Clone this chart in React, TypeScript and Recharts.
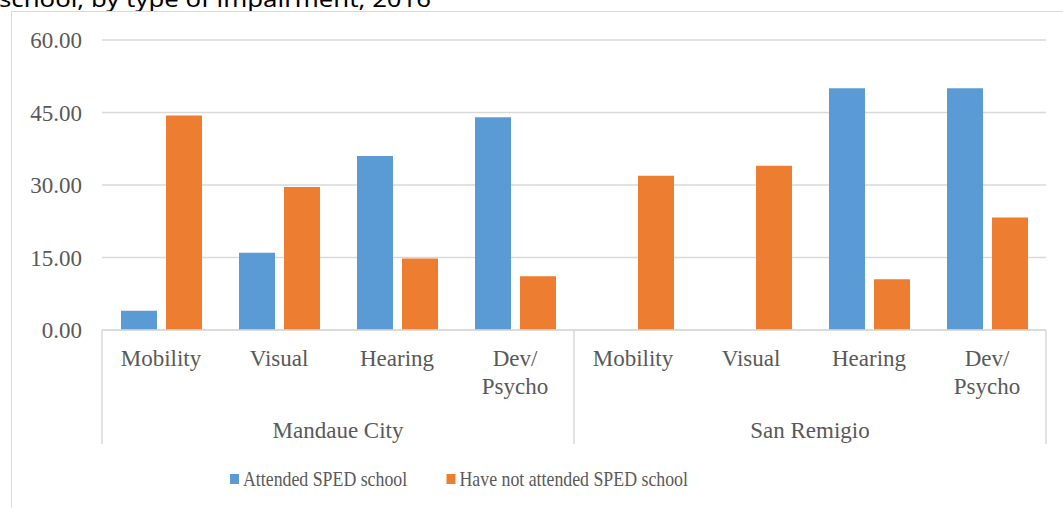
import React from "react";
import { BarChart, Bar, XAxis, YAxis, CartesianGrid, Legend } from "recharts";

// values
const groups = ["Mandaue City", "San Remigio"];
const impairments = ["Mobility", "Visual", "Hearing", "Dev/\nPsycho"];
const attended = [4.0, 16.0, 36.0, 44.0, 0, 0, 50.0, 50.0];
const notAttended = [44.4, 29.6, 14.8, 11.1, 31.9, 34.0, 10.5, 23.3];
const yTicks = [0, 15, 30, 45, 60];
const seriesNames = ["Attended SPED school", "Have not attended SPED school"];
const seriesColors = ["#5B9BD5", "#ED7D31"];

const rows = groups.flatMap((g, gi) =>
  impairments.map((c, ci) => ({
    key: `${g}|${c}`,
    group: g,
    category: c,
    attended: attended[gi * impairments.length + ci],
    notAttended: notAttended[gi * impairments.length + ci],
  }))
);

const serif = '"Liberation Serif", "Times New Roman", serif';
const textGray = "#595959";
const lineGray = "#d9d9d9";

const CategoryTick = (props: any) => {
  const { x, y, payload } = props;
  const idx = rows.findIndex((r) => r.key === payload.value);
  if (idx < 0) return null;
  const lines = rows[idx].category.split("\n");
  const half = payload.offset ?? 59;
  return (
    <g>
      {lines.map((l: string, i: number) => (
        <text key={i} x={x} y={y + 36 + i * 28} textAnchor="middle" fill={textGray} fontFamily={serif} fontSize={23}>
          {l}
        </text>
      ))}
      {idx % impairments.length === 0 && (
        <line x1={x - half} x2={x - half} y1={y} y2={y + 114} stroke={lineGray} strokeWidth={1.5} />
      )}
      {idx === rows.length - 1 && (
        <line x1={x + half} x2={x + half} y1={y} y2={y + 114} stroke={lineGray} strokeWidth={1.5} />
      )}
    </g>
  );
};

const GroupTick = (props: any) => {
  const { x, y, payload } = props;
  return (
    <text x={x} y={y + 22} textAnchor="middle" fill={textGray} fontFamily={serif} fontSize={23}>
      {payload.value}
    </text>
  );
};

const legendX = [230, 446.5];

const LegendContent = () => (
  <svg width={1063} height={30} style={{ display: "block" }}>
    {seriesNames.map((n, i) => (
      <g key={n} transform={`translate(${legendX[i]},0)`}>
        <rect x={0} y={11} width={9} height={10} fill={seriesColors[i]} />
        <g transform="translate(13,23) scale(0.81,1)">
          <text x={0} y={0} fill={textGray} fontFamily={serif} fontSize={22}>
            {n}
          </text>
        </g>
      </g>
    ))}
  </svg>
);

export default function App() {
  return (
    <div
      style={{
        position: "absolute",
        left: 0,
        top: 0,
        width: 1063,
        height: 508,
        overflow: "hidden",
        background: "#fff",
      }}
    >
      <svg width={1063} height={20} style={{ position: "absolute", left: 0, top: 0 }}>
        <text x={-1} y={7} fontFamily='"Noto Sans", "Open Sans", sans-serif' fontSize={22} fill="#000" textLength={432} lengthAdjust="spacingAndGlyphs">
          school, by type of impairment, 2016
        </text>
      </svg>
      <div
        style={{
          position: "absolute",
          left: 10.5,
          top: 10.5,
          width: 1100,
          height: 600,
          borderLeft: `1.5px solid ${lineGray}`,
          borderTop: `1.5px solid ${lineGray}`,
        }}
      />
      <div style={{ position: "absolute", left: 0, top: 0 }}>
        <BarChart
          width={1063}
          height={508}
          data={rows}
          margin={{ top: 40, right: 17, left: 12, bottom: 15 }}
          barSize={36}
          barGap={9}
        >
          <CartesianGrid vertical={false} stroke={lineGray} strokeWidth={1.5} />
          <XAxis
            dataKey="key"
            interval={0}
            height={86}
            tickSize={0}
            tickMargin={0}
            tickLine={false}
            axisLine={{ stroke: lineGray, strokeWidth: 1.5 }}
            tick={<CategoryTick />}
          />
          <XAxis
            xAxisId="group"
            dataKey="group"
            allowDuplicatedCategory={false}
            interval={0}
            height={47}
            tickSize={0}
            tickMargin={0}
            tickLine={false}
            axisLine={false}
            tick={<GroupTick />}
          />
          <YAxis
            domain={[0, 60]}
            ticks={yTicks}
            width={90}
            tickSize={0}
            tickMargin={20}
            tickLine={false}
            axisLine={false}
            tickFormatter={(v: number) => v.toFixed(2)}
            tick={{ fill: textGray, fontFamily: serif, fontSize: 23 }}
          />
          <Legend
            verticalAlign="bottom"
            content={<LegendContent />}
            wrapperStyle={{ left: 0, width: 1063 }}
          />
          <Bar dataKey="attended" name={seriesNames[0]} fill={seriesColors[0]} isAnimationActive={false} />
          <Bar dataKey="notAttended" name={seriesNames[1]} fill={seriesColors[1]} isAnimationActive={false} />
        </BarChart>
      </div>
    </div>
  );
}
